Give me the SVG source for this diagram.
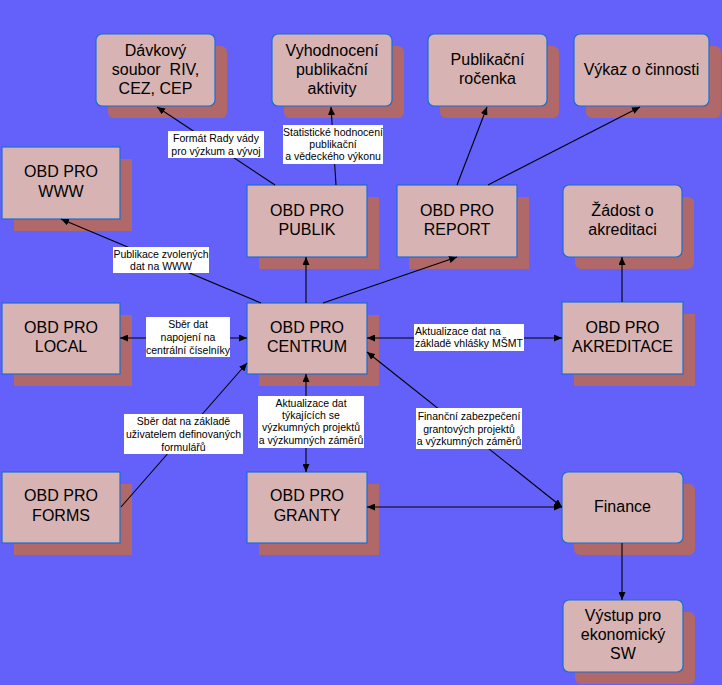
<svg xmlns="http://www.w3.org/2000/svg" width="722" height="685" viewBox="0 0 722 685">
<defs>
<marker id="ar" markerUnits="userSpaceOnUse" markerWidth="9" markerHeight="7" refX="8" refY="3.5" orient="auto-start-reverse">
<path d="M0,0 L8,3.5 L0,7 z" fill="#000"/>
</marker>
<style>
.sh{fill:#b06868}
.bx{fill:#d7b3b3;stroke:#1a6fd0;stroke-width:1.2}
.nt{font-family:"Liberation Sans",Arial,sans-serif;font-size:16px;fill:#000;text-anchor:middle}
.lb{fill:#fff}
.lt{font-family:"Liberation Sans",Arial,sans-serif;font-size:10.5px;fill:#000;text-anchor:middle}
.cn{stroke:#000;stroke-width:1.1;fill:none}
.e{marker-end:url(#ar)}
.b{marker-start:url(#ar);marker-end:url(#ar)}
</style>
</defs>
<rect width="722" height="685" fill="#6461fb"/>

<g id="davkovy"><rect class="sh" x="108" y="46" width="119" height="72" rx="6"/><rect class="bx" x="96" y="34" width="119" height="72" rx="6"/>
<text class="nt" x="155.5" y="56">Dávkový</text><text class="nt" x="155.5" y="75">soubor&#160; RIV,</text><text class="nt" x="155.5" y="94">CEZ, CEP</text></g>
<g id="vyhodnoceni"><rect class="sh" x="284" y="46" width="120" height="72" rx="6"/><rect class="bx" x="272" y="34" width="120" height="72" rx="6"/>
<text class="nt" x="332" y="56">Vyhodnocení</text><text class="nt" x="332" y="75">publikační</text><text class="nt" x="332" y="94">aktivity</text></g>
<g id="rocenka"><rect class="sh" x="440" y="46" width="119" height="72" rx="6"/><rect class="bx" x="428" y="34" width="119" height="72" rx="6"/>
<text class="nt" x="487.5" y="65">Publikační</text><text class="nt" x="487.5" y="84">ročenka</text></g>
<g id="vykaz"><rect class="sh" x="586" y="46" width="135" height="72" rx="6"/><rect class="bx" x="574" y="34" width="135" height="72" rx="6"/>
<text class="nt" x="641.5" y="75">Výkaz o činnosti</text></g>
<g id="www"><rect class="sh" x="14" y="159" width="118" height="72"/><rect class="bx" x="2" y="147" width="118" height="72"/>
<text class="nt" x="61" y="177">OBD PRO</text><text class="nt" x="61" y="197">WWW</text></g>
<g id="publik"><rect class="sh" x="259" y="197" width="120" height="72"/><rect class="bx" x="247" y="185" width="120" height="72"/>
<text class="nt" x="307" y="216">OBD PRO</text><text class="nt" x="307" y="235">PUBLIK</text></g>
<g id="report"><rect class="sh" x="409" y="197" width="120" height="72"/><rect class="bx" x="397" y="185" width="120" height="72"/>
<text class="nt" x="457" y="216">OBD PRO</text><text class="nt" x="457" y="235">REPORT</text></g>
<g id="zadost"><rect class="sh" x="575" y="197" width="119" height="72" rx="6"/><rect class="bx" x="563" y="185" width="119" height="72" rx="6"/>
<text class="nt" x="622.5" y="216">Žádost o</text><text class="nt" x="622.5" y="235">akreditaci</text></g>
<g id="local"><rect class="sh" x="14" y="315" width="118" height="71"/><rect class="bx" x="2" y="303" width="118" height="71"/>
<text class="nt" x="61" y="333">OBD PRO</text><text class="nt" x="61" y="352">LOCAL</text></g>
<g id="centrum"><rect class="sh" x="259" y="315" width="120" height="71"/><rect class="bx" x="247" y="303" width="120" height="71"/>
<text class="nt" x="307" y="333">OBD PRO</text><text class="nt" x="307" y="352">CENTRUM</text></g>
<g id="akreditace"><rect class="sh" x="574" y="314" width="121" height="72"/><rect class="bx" x="562" y="302" width="121" height="72"/>
<text class="nt" x="622.5" y="333">OBD PRO</text><text class="nt" x="622.5" y="352">AKREDITACE</text></g>
<g id="forms"><rect class="sh" x="14" y="484" width="118" height="71"/><rect class="bx" x="2" y="472" width="118" height="71"/>
<text class="nt" x="61" y="501">OBD PRO</text><text class="nt" x="61" y="521">FORMS</text></g>
<g id="granty"><rect class="sh" x="259" y="484" width="120" height="71"/><rect class="bx" x="247" y="472" width="120" height="71"/>
<text class="nt" x="307" y="501">OBD PRO</text><text class="nt" x="307" y="521">GRANTY</text></g>
<g id="finance"><rect class="sh" x="574" y="484" width="121" height="71" rx="6"/><rect class="bx" x="562" y="472" width="121" height="71" rx="6"/>
<text class="nt" x="622.5" y="512">Finance</text></g>
<g id="vystup"><rect class="sh" x="575" y="612" width="120" height="72" rx="6"/><rect class="bx" x="563" y="600" width="120" height="72" rx="6"/>
<text class="nt" x="623" y="621">Výstup pro</text><text class="nt" x="623" y="640">ekonomický</text><text class="nt" x="623" y="659">SW</text></g>

<g id="connectors">
<line class="cn e" x1="275" y1="185" x2="157" y2="107"/>
<line class="cn e" x1="336" y1="185" x2="331" y2="107"/>
<line class="cn e" x1="306" y1="303" x2="306" y2="257"/>
<line class="cn e" x1="323" y1="303" x2="457" y2="257"/>
<line class="cn e" x1="457" y1="185" x2="487" y2="107"/>
<line class="cn e" x1="488" y1="185" x2="640" y2="107"/>
<line class="cn e" x1="261" y1="303" x2="61" y2="219"/>
<line class="cn b" x1="120" y1="338" x2="247" y2="338"/>
<line class="cn b" x1="367" y1="338" x2="562" y2="338"/>
<line class="cn e" x1="622" y1="302" x2="622" y2="257"/>
<line class="cn b" x1="367" y1="352" x2="562" y2="507"/>
<line class="cn b" x1="367" y1="507" x2="562" y2="507"/>
<line class="cn b" x1="306" y1="374" x2="306" y2="472"/>
<line class="cn e" x1="121" y1="507" x2="247" y2="363"/>
<line class="cn e" x1="622" y1="543" x2="622" y2="600"/>
</g>

<g id="labels">
<rect class="lb" x="168" y="131" width="96" height="27"/>
<text class="lt" x="216" y="142">Formát Rady vády</text><text class="lt" x="216" y="155">pro výzkum a vývoj</text>
<rect class="lb" x="283" y="125" width="100" height="39"/>
<text class="lt" x="333" y="136">Statistické hodnocení</text><text class="lt" x="333" y="148">publikační</text><text class="lt" x="333" y="160">a vědeckého výkonu</text>
<rect class="lb" x="113" y="247" width="96" height="26"/>
<text class="lt" x="161" y="258">Publikace zvolených</text><text class="lt" x="161" y="270">dat na WWW</text>
<rect class="lb" x="146" y="317" width="84" height="40"/>
<text class="lt" x="188" y="328">Sběr dat</text><text class="lt" x="188" y="341">napojení na</text><text class="lt" x="188" y="354">centrální číselníky</text>
<rect class="lb" x="124" y="414" width="119" height="40"/>
<text class="lt" x="183.5" y="425">Sběr dat na základě</text><text class="lt" x="183.5" y="438">uživatelem definovaných</text><text class="lt" x="183.5" y="451">formulářů</text>
<rect class="lb" x="258" y="396" width="106" height="52"/>
<text class="lt" x="311" y="407">Aktualizace dat</text><text class="lt" x="311" y="419">týkajících se</text><text class="lt" x="311" y="431">výzkumných projektů</text><text class="lt" x="311" y="444">a výzkumných záměrů</text>
<rect class="lb" x="416" y="408" width="106" height="41"/>
<text class="lt" x="469" y="420">Finanční zabezpečení</text><text class="lt" x="469" y="433">grantových projektů</text><text class="lt" x="469" y="445">a výzkumných záměrů</text>
<rect class="lb" x="414" y="324" width="110" height="27"/>
<text class="lt" x="415" y="335" style="text-anchor:start">Aktualizace dat na</text><text class="lt" x="415" y="347" style="text-anchor:start">základě vhlášky MŠMT</text>
</g>
</svg>
